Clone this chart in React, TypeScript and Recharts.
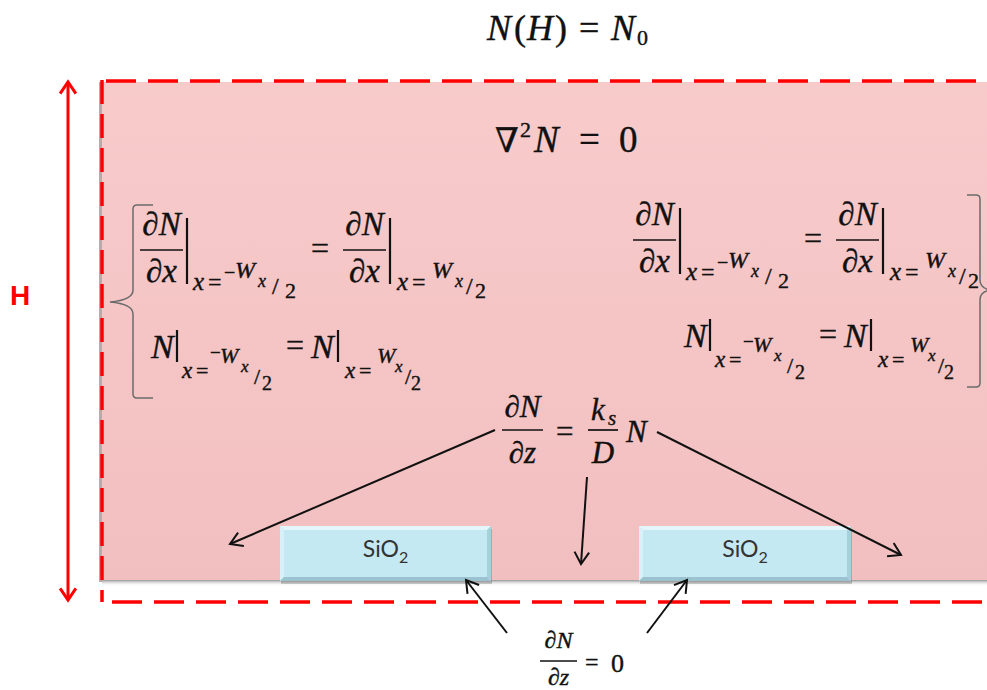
import React from 'react';
import { ComposedChart, XAxis, YAxis, ReferenceArea, ReferenceLine, ReferenceDot } from 'recharts';

const MATH = "'Liberation Serif', 'DejaVu Serif', serif";
const SANS = "'Lato', 'Open Sans', sans-serif";

// the diagram is laid out in image pixels, y grows downward
const frame = [{ x: 0, y: 0 }, { x: 987, y: 690 }];

const substrate = { x1: 102, x2: 987, y1: 82, y2: 580 };

const oxidePads = [
  { label: 'SiO', sub: '2', x1: 280, x2: 491, y1: 526, y2: 581 },
  { label: 'SiO', sub: '2', x1: 639, x2: 851, y1: 526, y2: 581 },
];

const boundaryEdges = [
  { name: 'top', from: { x: 106, y: 81 }, to: { x: 987, y: 81 }, dash: '30 12' },
  { name: 'left', from: { x: 102, y: 80 }, to: { x: 102, y: 602 }, dash: '24 10' },
  { name: 'bottom', from: { x: 112, y: 602 }, to: { x: 987, y: 602 }, dash: '30 12' },
];

const heightArrow = { from: { x: 68, y: 82 }, to: { x: 68, y: 600 } };

const fluxArrows = [
  { from: { x: 495, y: 430 }, to: { x: 230, y: 544 } },
  { from: { x: 587, y: 477 }, to: { x: 581, y: 564 } },
  { from: { x: 657, y: 432 }, to: { x: 901, y: 555 } },
];

const zeroFluxArrows = [
  { from: { x: 507, y: 633 }, to: { x: 466, y: 580 } },
  { from: { x: 647, y: 633 }, to: { x: 687, y: 580 } },
];

type Piece = { t: string; x: number; y: number; fs: number; it?: boolean; mid?: boolean };
type Rule = { x1: number; y1: number; x2: number; y2: number; w: number };
type Formula = { name: string; x: number; y: number; pieces: Piece[]; rules: Rule[] };

const P = (t: string, x: number, y: number, fs: number, it = true, mid = false): Piece => ({ t, x, y, fs, it, mid });

// x = ±Wx/2 subscript under an evaluation bar
function evalSub(x0: number, y0: number, neg: boolean, row: number): Piece[] {
  const out: Piece[] = [];
  if (row === 1) {
    out.push(P('x', x0, y0, 25), P('=', x0 + 15, y0, 24, false));
    if (neg) {
      out.push(P('−', x0 + 31, y0 - 11, 20, false), P('W', x0 + 42, y0 - 12, 24), P('x', x0 + 65, y0 - 3, 18));
      out.push(P('/', x0 + 79, y0 + 4, 24, false), P('2', x0 + 92, y0 + 8, 22, false));
    } else {
      out.push(P('W', x0 + 35, y0 - 12, 24), P('x', x0 + 58, y0 - 3, 18));
      out.push(P('/', x0 + 69, y0 + 4, 24, false), P('2', x0 + 78, y0 + 8, 22, false));
    }
  } else {
    out.push(P('x', x0, y0, 23), P('=', x0 + 14, y0, 22, false));
    if (neg) {
      out.push(P('−', x0 + 28, y0 - 19, 19, false), P('W', x0 + 38, y0 - 15, 22), P('x', x0 + 59, y0 - 6, 17));
      out.push(P('/', x0 + 72, y0 + 6, 22, false), P('2', x0 + 80, y0 + 12, 20, false));
    } else {
      out.push(P('W', x0 + 32, y0 - 15, 22), P('x', x0 + 50, y0 - 6, 17));
      out.push(P('/', x0 + 60, y0 + 6, 22, false), P('2', x0 + 66, y0 + 12, 20, false));
    }
  }
  return out;
}

function frac(x0: number, width: number, num: string, den: string, fs: number, up: number, down: number): { pieces: Piece[]; rules: Rule[] } {
  return {
    pieces: [P(num, x0 + width / 2, -up, fs, true, true), P(den, x0 + width / 2, down, fs, true, true)],
    rules: [{ x1: x0, y1: 0, x2: x0 + width, y2: 0, w: 1.7 }],
  };
}

function derivRow(): { pieces: Piece[]; rules: Rule[] } {
  const a = frac(0, 43, '∂N', '∂x', 33, 15, 32);
  const b = frac(203, 43, '∂N', '∂x', 33, 15, 32);
  return {
    pieces: [...a.pieces, ...evalSub(53, 40, true, 1), P('=', 171, 9, 32, false), ...b.pieces, ...evalSub(257, 40, false, 1)],
    rules: [...a.rules, ...b.rules, { x1: 47, y1: -32, x2: 47, y2: 34, w: 2.2 }, { x1: 250, y1: -32, x2: 250, y2: 34, w: 2.2 }],
  };
}

function valueRow(): { pieces: Piece[]; rules: Rule[] } {
  return {
    pieces: [P('N', -1, 0, 34), ...evalSub(30, 20, true, 2), P('=', 134, -2, 32, false), P('N', 159, 0, 34), ...evalSub(193, 20, false, 2)],
    rules: [{ x1: 25, y1: -28, x2: 25, y2: 4, w: 2.2 }, { x1: 186, y1: -28, x2: 186, y2: 4, w: 2.2 }],
  };
}

const dRow = derivRow();
const vRow = valueRow();
const fluxL = frac(0, 41, '∂N', '∂z', 31, 13, 33);
const fluxR = frac(86, 30, 'k', 'D', 31, 10, 33);
const zeroF = frac(0, 37, '∂N', '∂z', 24, 13, 24);

const formulas: Formula[] = [
  {
    name: 'top', x: 487, y: 40, rules: [],
    pieces: [P('N', 0, 0, 36), P('(', 27, 0, 36, false), P('H', 40, 0, 36), P(')', 68, 0, 36, false), P('=', 92, 0, 36, false), P('N', 124, 0, 36), P('0', 150, 5, 22, false)],
  },
  {
    name: 'laplace', x: 495, y: 152, rules: [],
    pieces: [P('∇', 0, 0, 34, false), P('2', 25, -15, 22, false), P('N', 39, 0, 37), P('=', 84, 0, 37, false), P('0', 124, 0, 37, false)],
  },
  { name: 'leftDeriv', x: 140, y: 250, ...dRow },
  { name: 'rightDeriv', x: 633, y: 240, ...dRow },
  { name: 'leftValue', x: 152, y: 358, ...vRow },
  { name: 'rightValue', x: 685, y: 347, ...vRow },
  {
    name: 'flux', x: 502, y: 430,
    pieces: [...fluxL.pieces, P('=', 54, 12, 31, false), ...fluxR.pieces.filter((p) => p.t !== 'k'), P('k', 89, -10, 31), P('s', 106, -5, 21), P('N', 124, 12, 31)],
    rules: [...fluxL.rules, ...fluxR.rules],
  },
  {
    name: 'zeroFlux', x: 540, y: 661,
    pieces: [...zeroF.pieces, P('=', 45, 9, 24, false), P('0', 71, 11, 26, false)],
    rules: zeroF.rules,
  },
];

const braces = [
  { name: 'left', x: 110, y: 302, d: 'M 43 -97 L 27 -97 Q 23 -97 23 -93 L 23 -12 Q 23 -2 0 0 Q 23 2 23 12 L 23 92 Q 23 96 27 96 L 43 96' },
  { name: 'right', x: 980, y: 290, d: 'M -13 -95 L -4 -95 Q 0 -95 0 -91 L 0 -10 Q 0 -2 10 0 Q 0 2 0 10 L 0 93 Q 0 97 -4 97 L -13 97' },
];

const arrowShape = (color: string, width: number, head: number, spread: number, both: boolean) => (p: any) => {
  const { x1, y1, x2, y2 } = p;
  const ang = Math.atan2(y2 - y1, x2 - x1);
  const tip = (x: number, y: number, a: number) => {
    const l = { x: x - head * Math.cos(a - spread), y: y - head * Math.sin(a - spread) };
    const r = { x: x - head * Math.cos(a + spread), y: y - head * Math.sin(a + spread) };
    return `M ${l.x} ${l.y} L ${x} ${y} L ${r.x} ${r.y}`;
  };
  return (
    <g>
      <line x1={x1} y1={y1} x2={x2} y2={y2} stroke={color} strokeWidth={width} />
      <path d={tip(x2, y2, ang)} fill="none" stroke={color} strokeWidth={width} strokeLinejoin="miter" />
      {both && <path d={tip(x1, y1, ang + Math.PI)} fill="none" stroke={color} strokeWidth={width} />}
    </g>
  );
};

const padShape = (label: string, sub: string) => (p: any) => {
  const { x, y, width: w, height: h } = p;
  const b = 4;
  return (
    <g>
      <rect x={x + 1} y={y + 3} width={w} height={h} fill="#000" opacity={0.18} />
      <rect x={x} y={y} width={w} height={h} fill="#C4E9F3" />
      <polygon points={`${x},${y} ${x + w},${y} ${x + w - b},${y + b} ${x + b},${y + b}`} fill="#E4F6FB" />
      <polygon points={`${x},${y} ${x + b},${y + b} ${x + b},${y + h - b} ${x},${y + h}`} fill="#D8F1F8" />
      <polygon points={`${x + w},${y} ${x + w},${y + h} ${x + w - b},${y + h - b} ${x + w - b},${y + b}`} fill="#A6D0DB" />
      <polygon points={`${x},${y + h} ${x + w},${y + h} ${x + w - b},${y + h - b} ${x + b},${y + h - b}`} fill="#9AC3CF" />
      <text x={x + w / 2} y={y + 31} textAnchor="middle" fontFamily={SANS} fontSize={23} fill="#333">
        {label}
        <tspan fontSize={16} dy={6}>{sub}</tspan>
      </text>
    </g>
  );
};

const formulaShape = (f: Formula) => (p: any) => (
  <g transform={`translate(${p.cx},${p.cy})`}>
    {f.rules.map((r, i) => (
      <line key={i} x1={r.x1} y1={r.y1} x2={r.x2} y2={r.y2} stroke="#111" strokeWidth={r.w} />
    ))}
    {f.pieces.map((q, i) => (
      <text
        key={i}
        x={q.x}
        y={q.y}
        fontSize={q.fs}
        fontFamily={MATH}
        fontStyle={q.it ? 'italic' : 'normal'}
        textAnchor={q.mid ? 'middle' : 'start'}
        fill="#111"
        stroke="#111"
        strokeWidth={0.4}
      >
        {q.t}
      </text>
    ))}
  </g>
);

const braceShape = (d: string) => (p: any) => (
  <path transform={`translate(${p.cx},${p.cy})`} d={d} fill="none" stroke="#6b6b6b" strokeWidth={1.5} />
);

const hShape = (p: any) => (
  <text x={p.cx} y={p.cy} fontFamily="'Liberation Sans', Arial, sans-serif" fontWeight="bold" fontSize={28} fill="#FF0000">
    H
  </text>
);

export default function App() {
  return (
    <div style={{ width: 987, height: 690, background: '#fff' }}>
      <style>{'body{margin:0}'}</style>
      <ComposedChart width={987} height={690} data={frame} margin={{ top: 0, right: 0, bottom: 0, left: 0 }}>
        <defs>
          <linearGradient id="pinkFill" x1="0" y1="0" x2="0" y2="1">
            <stop offset="0" stopColor="#F8CBCB" />
            <stop offset="1" stopColor="#F2BFC0" />
          </linearGradient>
          <linearGradient id="floorShadow" x1="0" y1="0" x2="0" y2="1">
            <stop offset="0" stopColor="#8a8a8a" stopOpacity={0.9} />
            <stop offset="1" stopColor="#ffffff" stopOpacity={0} />
          </linearGradient>
        </defs>
        <XAxis type="number" dataKey="x" domain={[0, 987]} hide allowDataOverflow />
        <YAxis type="number" dataKey="y" domain={[0, 690]} reversed hide allowDataOverflow />

        <ReferenceArea
          x1={substrate.x1}
          x2={substrate.x2}
          y1={substrate.y2}
          y2={substrate.y2 + 6}
          fill="url(#floorShadow)"
          fillOpacity={1}
          ifOverflow="visible"
        />
        <ReferenceArea
          x1={substrate.x1}
          x2={substrate.x2}
          y1={substrate.y1}
          y2={substrate.y2}
          fill="url(#pinkFill)"
          fillOpacity={1}
          ifOverflow="visible"
        />
        {oxidePads.map((pad, i) => (
          <ReferenceArea
            key={i}
            x1={pad.x1}
            x2={pad.x2}
            y1={pad.y1}
            y2={pad.y2}
            ifOverflow="visible"
            shape={padShape(pad.label, pad.sub)}
          />
        ))}

        <ReferenceLine
          segment={[{ x: substrate.x1 - 1.5, y: substrate.y1 }, { x: substrate.x1 - 1.5, y: substrate.y2 + 2 }]}
          stroke="#bcaaaa"
          strokeWidth={3}
          ifOverflow="visible"
        />
        {boundaryEdges.map((e) => (
          <ReferenceLine
            key={e.name}
            segment={[e.from, e.to]}
            stroke="#FF0000"
            strokeWidth={3.5}
            strokeDasharray={e.dash}
            ifOverflow="visible"
          />
        ))}

        <ReferenceLine
          segment={[heightArrow.from, heightArrow.to]}
          ifOverflow="visible"
          shape={arrowShape('#FF0000', 3, 14, 0.6, true)}
        />
        {[...fluxArrows, ...zeroFluxArrows].map((a, i) => (
          <ReferenceLine key={i} segment={[a.from, a.to]} ifOverflow="visible" shape={arrowShape('#111', 2, 14, 0.55, false)} />
        ))}

        <ReferenceDot x={10} y={305} r={0} ifOverflow="visible" shape={hShape} />
        {braces.map((b) => (
          <ReferenceDot key={b.name} x={b.x} y={b.y} r={0} ifOverflow="visible" shape={braceShape(b.d)} />
        ))}
        {formulas.map((f) => (
          <ReferenceDot key={f.name} x={f.x} y={f.y} r={0} ifOverflow="visible" shape={formulaShape(f)} />
        ))}
      </ComposedChart>
    </div>
  );
}
